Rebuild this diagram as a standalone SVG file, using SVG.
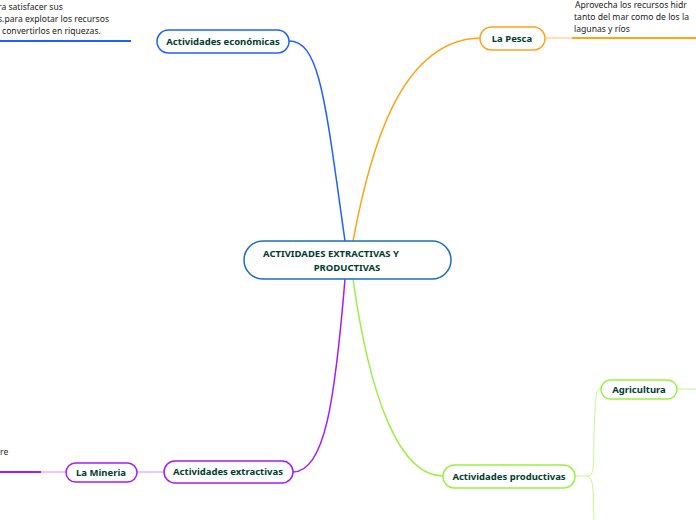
<svg xmlns="http://www.w3.org/2000/svg" width="696" height="520" viewBox="0 0 696 520">
<style>
text{font-family:"Noto Sans","Open Sans",sans-serif;font-size:9.5px;fill:#003d2e;font-weight:bold}
.n{fill:#fff;stroke-width:1.5}
.t{font-weight:normal;fill:#222;font-size:8.6px}
.c{fill:none}
</style>
<rect width="696" height="520" fill="#fff"/>
<g id="connectors">
<path class="c" d="M289,41 C320,41 325,100 345,241" stroke="#2060ff" stroke-width="1.5"/>
<path class="c" d="M545,38 L572,38" stroke="#ffc060" stroke-width="1"/>
<path class="c" d="M480,38 C400,40 370,150 353,241" stroke="#ffa31a" stroke-width="1.5"/>
<path class="c" d="M345,279 C335,400 325,472 293,472" stroke="#a41aff" stroke-width="1.5"/>
<path class="c" d="M137,472 L164,472 M41,472 L66,472" stroke="#d090ff" stroke-width="1"/>
<path class="c" d="M353,279 C370,400 400,476 443,476" stroke="#99f040" stroke-width="1.5"/>
<path class="c" d="M575,476 L587,476 C597,476 592,460 595,410 C597,392 595,389 601,389 M587,476 C594,478 593,490 594,520 M677,389 L696,389" stroke="#c4f890" stroke-width="1"/>
<path class="c" d="M0,41 L131,41" stroke="#2060ff" stroke-width="2"/>
<path class="c" d="M572,38 L696,38" stroke="#ffa31a" stroke-width="2"/>
<path class="c" d="M0,472 L41,472" stroke="#a41aff" stroke-width="2"/>
</g>
<g id="central"><rect class="n" x="244" y="241" width="207" height="38" rx="19" stroke="#1a70c0"/>
<text x="331" y="257" text-anchor="middle" font-size="9.2">ACTIVIDADES EXTRACTIVAS Y</text><text x="347" y="271" text-anchor="middle" font-size="9.2">PRODUCTIVAS</text></g>
<g id="economicas"><rect class="n" x="157" y="30" width="132" height="23" rx="11.5" stroke="#2060ff"/><text x="223" y="45" text-anchor="middle" font-size="8.8">Actividades económicas</text></g>
<g id="econ-text"><text class="t" x="-2" y="10">ra satisfacer sus</text><text class="t" x="-2" y="22">s.para explotar los recursos</text><text class="t" x="2" y="34">convertirlos en riquezas.</text></g>
<g id="pesca"><rect class="n" x="480" y="27" width="65" height="23" rx="11.5" stroke="#ffa31a"/><text x="512" y="42" text-anchor="middle" font-size="8.8">La Pesca</text></g>
<g id="pesca-text"><text class="t" x="575" y="8"> Aprovecha los recursos hidr</text><text class="t" x="574" y="20">tanto del mar como de los la</text><text class="t" x="574" y="32">lagunas y ríos</text></g>
<g id="extractivas"><rect class="n" x="164" y="461" width="129" height="22" rx="11" stroke="#a41aff"/><text x="228" y="475" text-anchor="middle" font-size="8.8">Actividades extractivas</text></g>
<g id="mineria"><rect class="n" x="66" y="463" width="71" height="19" rx="9.5" stroke="#a41aff"/><text x="101" y="476" text-anchor="middle" font-size="8.8">La Mineria</text></g>
<g id="mineria-text"><text class="t" x="0" y="455">re</text></g>
<g id="productivas"><rect class="n" x="443" y="465" width="132" height="23" rx="11.5" stroke="#99f040"/><text x="509" y="480" text-anchor="middle" font-size="8.8">Actividades productivas</text></g>
<g id="agricultura"><rect class="n" x="601" y="380" width="76" height="19" rx="9.5" stroke="#99f040"/><text x="639" y="393" text-anchor="middle" font-size="8.8">Agricultura</text></g>
</svg>
